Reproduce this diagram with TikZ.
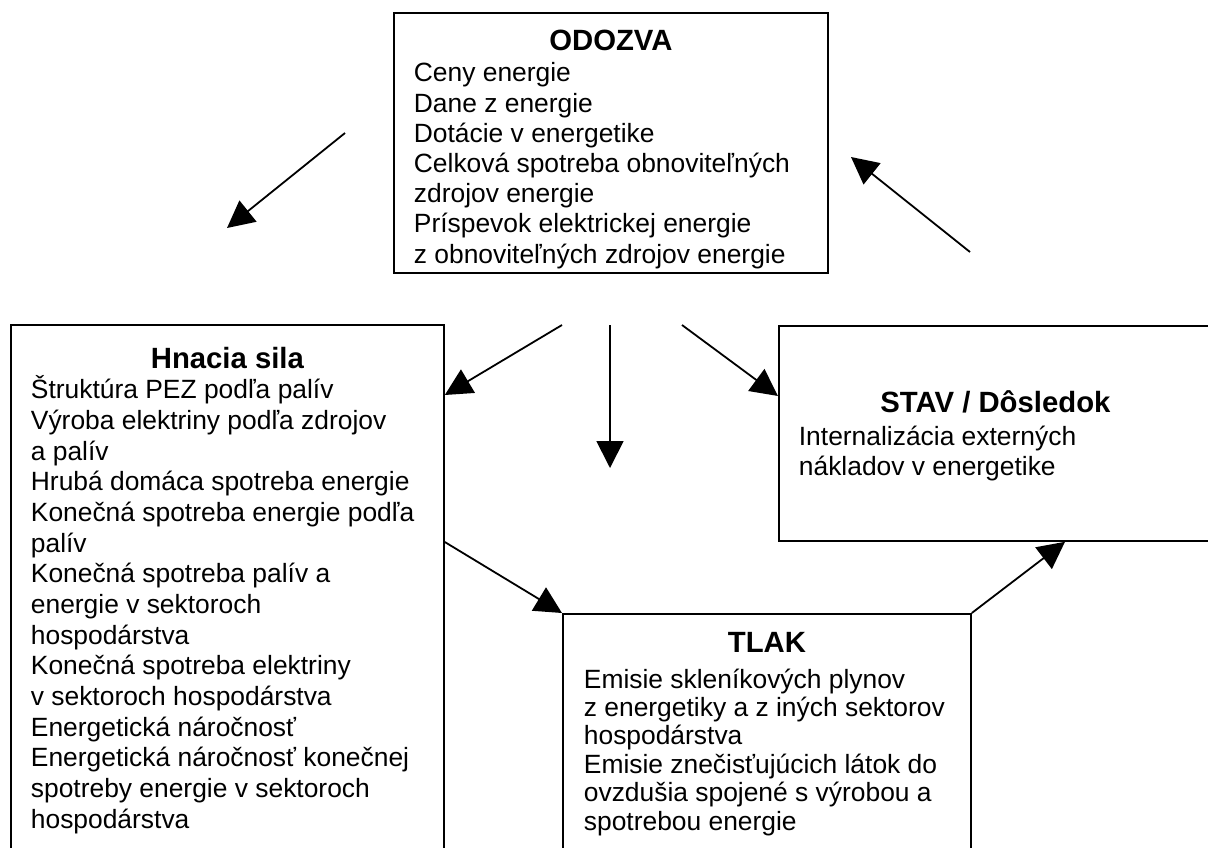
\documentclass[tikz,border=0pt]{standalone}
\usepackage{fontspec}
\setmainfont{Liberation Sans}
\usetikzlibrary{arrows.meta, positioning}

\tikzset{
    body/.style={
        font = \fontsize{26.4}{#1}\selectfont,
        align = left,
        anchor = base west, % baseline of the last line
        inner sep = 0pt
    },
    body/.default = 30.3
}

\begin{document}
\begin{tikzpicture}[
            x = 1pt, y = -1pt, % one unit per pixel, y downwards
            > = {Triangle[length=27pt, width=27pt]}, % arrow head style
            line width = 1.8pt,
        ]

        \tikzstyle{box}=[
            draw,
            line width = 1.8pt,
            inner sep = 0pt,
            anchor = north west
        ]
        \tikzstyle{head}=[
            font = \fontsize{29.3}{32}\selectfont\bfseries,
            anchor = base,
            inner sep = 0pt
        ]

        \useasboundingbox (0,0) rectangle (1208,847);
        \clip (0,0) rectangle (1208,847);

        % the four boxes
        \node[box, minimum width=434pt, minimum height=260pt] (odozva) at (393,12) {};
        \node[box, minimum width=433pt, minimum height=560pt] (hnacia) at (10,324) {};
        \node[box, minimum width=433pt, minimum height=215pt] (stav) at (778,325) {};
        \node[box, minimum width=408pt, minimum height=280pt] (tlak) at (562,613) {};

        \node[head] (odozva-h) at ([yshift=-38pt]odozva.north) {ODOZVA};
        \node[body=30.2] (odozva-b) at (413,263) {Ceny energie\\
            Dane z energie\\
            Dotácie v energetike\\
            Celková spotreba obnoviteľných\\
            zdrojov energie\\
            Príspevok elektrickej energie\\
            z obnoviteľných zdrojov energie};

        \node[head] (hnacia-h) at ([yshift=-44pt]hnacia.north) {Hnacia sila};
        \node[body=30.65] (hnacia-b) at (30,828) {Štruktúra PEZ podľa palív\\
            Výroba elektriny podľa zdrojov\\
            a palív\\
            Hrubá domáca spotreba energie\\
            Konečná spotreba energie podľa\\
            palív\\
            Konečná spotreba palív a\\
            energie v sektoroch\\
            hospodárstva\\
            Konečná spotreba elektriny\\
            v sektoroch hospodárstva\\
            Energetická náročnosť\\
            Energetická náročnosť konečnej\\
            spotreby energie v sektoroch\\
            hospodárstva};

        \node[head] (stav-h) at ([yshift=-87pt]stav.north) {STAV / Dôsledok};
        \node[body=30] (stav-b) at (798,475) {Internalizácia externých\\
            nákladov v energetike};

        \node[head] (tlak-h) at ([yshift=-39pt]tlak.north) {TLAK};
        \node[body=28.4] (tlak-b) at (583,830) {Emisie skleníkových plynov\\
            z energetiky a z iných sektorov\\
            hospodárstva\\
            Emisie znečisťujúcich látok do\\
            ovzdušia spojené s výrobou a\\
            spotrebou energie};

        % free ends of the arrows
        \coordinate (ul1) at (345,133);
        \coordinate (ul2) at (227,228);
        \coordinate (ur1) at (970,252);
        \coordinate (ur2) at (851,157);
        \coordinate (d1) at (562,325);
        \coordinate (d2) at (610,325);
        \coordinate (d3) at (682,325);
        \coordinate (d2e) at (610,468);

        \draw[->] (ul1) -- (ul2);
        \draw[->] (ur1) -- (ur2);
        \draw[->] (d1) -- ([yshift=-71pt]hnacia.north east);
        \draw[->] (d2) -- (d2e);
        \draw[->] (d3) -- ([yshift=-71pt]stav.north west);
        \draw[->] ([yshift=-218pt]hnacia.north east) -- (tlak.north west);
        \draw[->] (tlak.north east) -- ([xshift=287pt]stav.south west);
    \end{tikzpicture}
\end{document}
